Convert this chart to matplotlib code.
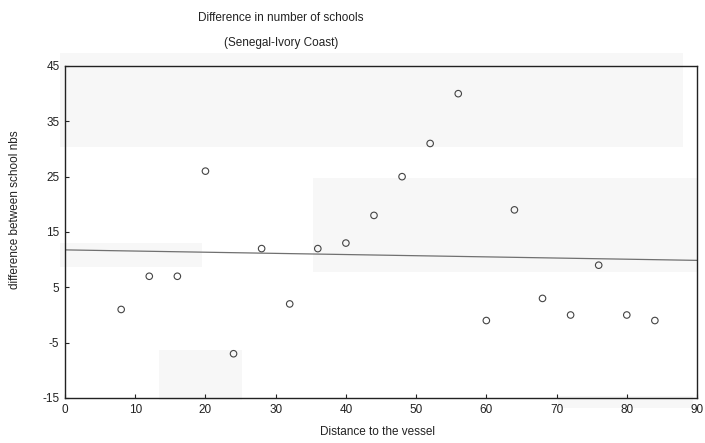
import numpy as np
import matplotlib
matplotlib.use("Agg")
from matplotlib import pyplot as plt
from matplotlib.patches import Rectangle

# distance to the vessel and difference in school counts (Senegal - Ivory Coast)
distance = [8, 12, 16, 20, 24, 28, 32, 36, 40, 44, 48, 52, 56, 60, 64, 68, 72, 76, 80, 84]
school_diff = [1, 7, 7, 26, -7, 12, 2, 12, 13, 18, 25, 31, 40, -1, 19, 3, 0, 9, 0, -1]

x_ticks = [0, 10, 20, 30, 40, 50, 60, 70, 80, 90]
y_ticks = [-15, -5, 5, 15, 25, 35, 45]

plt.rcParams['font.family'] = ['Liberation Sans', 'DejaVu Sans']
plt.rcParams['axes.unicode_minus'] = False

fig = plt.figure(figsize=(7.05, 4.43), dpi=100)
ax = fig.add_axes([65 / 705, 1 - 398 / 443, 632 / 705, 332 / 443])

# faint grey patches from the scanned page
patches_px = [
    (60, 53, 683, 147),
    (313, 178, 697, 272),
    (60, 243, 202, 267),
    (159, 350, 242, 400),
    (558, 396, 693, 408),
]
for x0, y0, x1, y1 in patches_px:
    fig.patches.append(Rectangle((x0 / 705, 1 - y1 / 443), (x1 - x0) / 705, (y1 - y0) / 443,
                                 transform=fig.transFigure, facecolor='#f7f7f7',
                                 edgecolor='none', zorder=-1))

ax.set_facecolor('none')

# least squares fit line
slope, intercept = np.polyfit(distance, school_diff, 1)
fit_x = np.array([0, 90])
ax.plot(fit_x, intercept + slope * fit_x, color='#707070', lw=0.9, zorder=2)

ax.scatter(distance, school_diff, s=22, facecolors='none', edgecolors='#444444',
           linewidths=0.8, zorder=3)

ax.set_xlim(0, 90)
ax.set_ylim(-15, 45)
ax.set_xticks(x_ticks)
ax.set_yticks(y_ticks)
ax.tick_params(direction='in', length=3, width=0.8, labelsize=8.5, pad=4,
               colors='#222222')
for sp in ax.spines.values():
    sp.set_linewidth(1.0)
    sp.set_color('#222222')

fig.text(281 / 705, 1 - 18 / 443, "Difference in number of schools", ha='center',
         va='center', fontsize=8.5, color='#222222')
fig.text(281 / 705, 1 - 43 / 443, "(Senegal-Ivory Coast)", ha='center',
         va='center', fontsize=8.5, color='#222222')
fig.text(378 / 705, 1 - 432 / 443, "Distance to the vessel", ha='center',
         va='center', fontsize=8.5, color='#222222')
fig.text(15 / 705, 1 - 210 / 443, "difference between school nbs", ha='center',
         va='center', rotation=90, fontsize=8.5, color='#222222')

fig.savefig("out.png", dpi=100)
